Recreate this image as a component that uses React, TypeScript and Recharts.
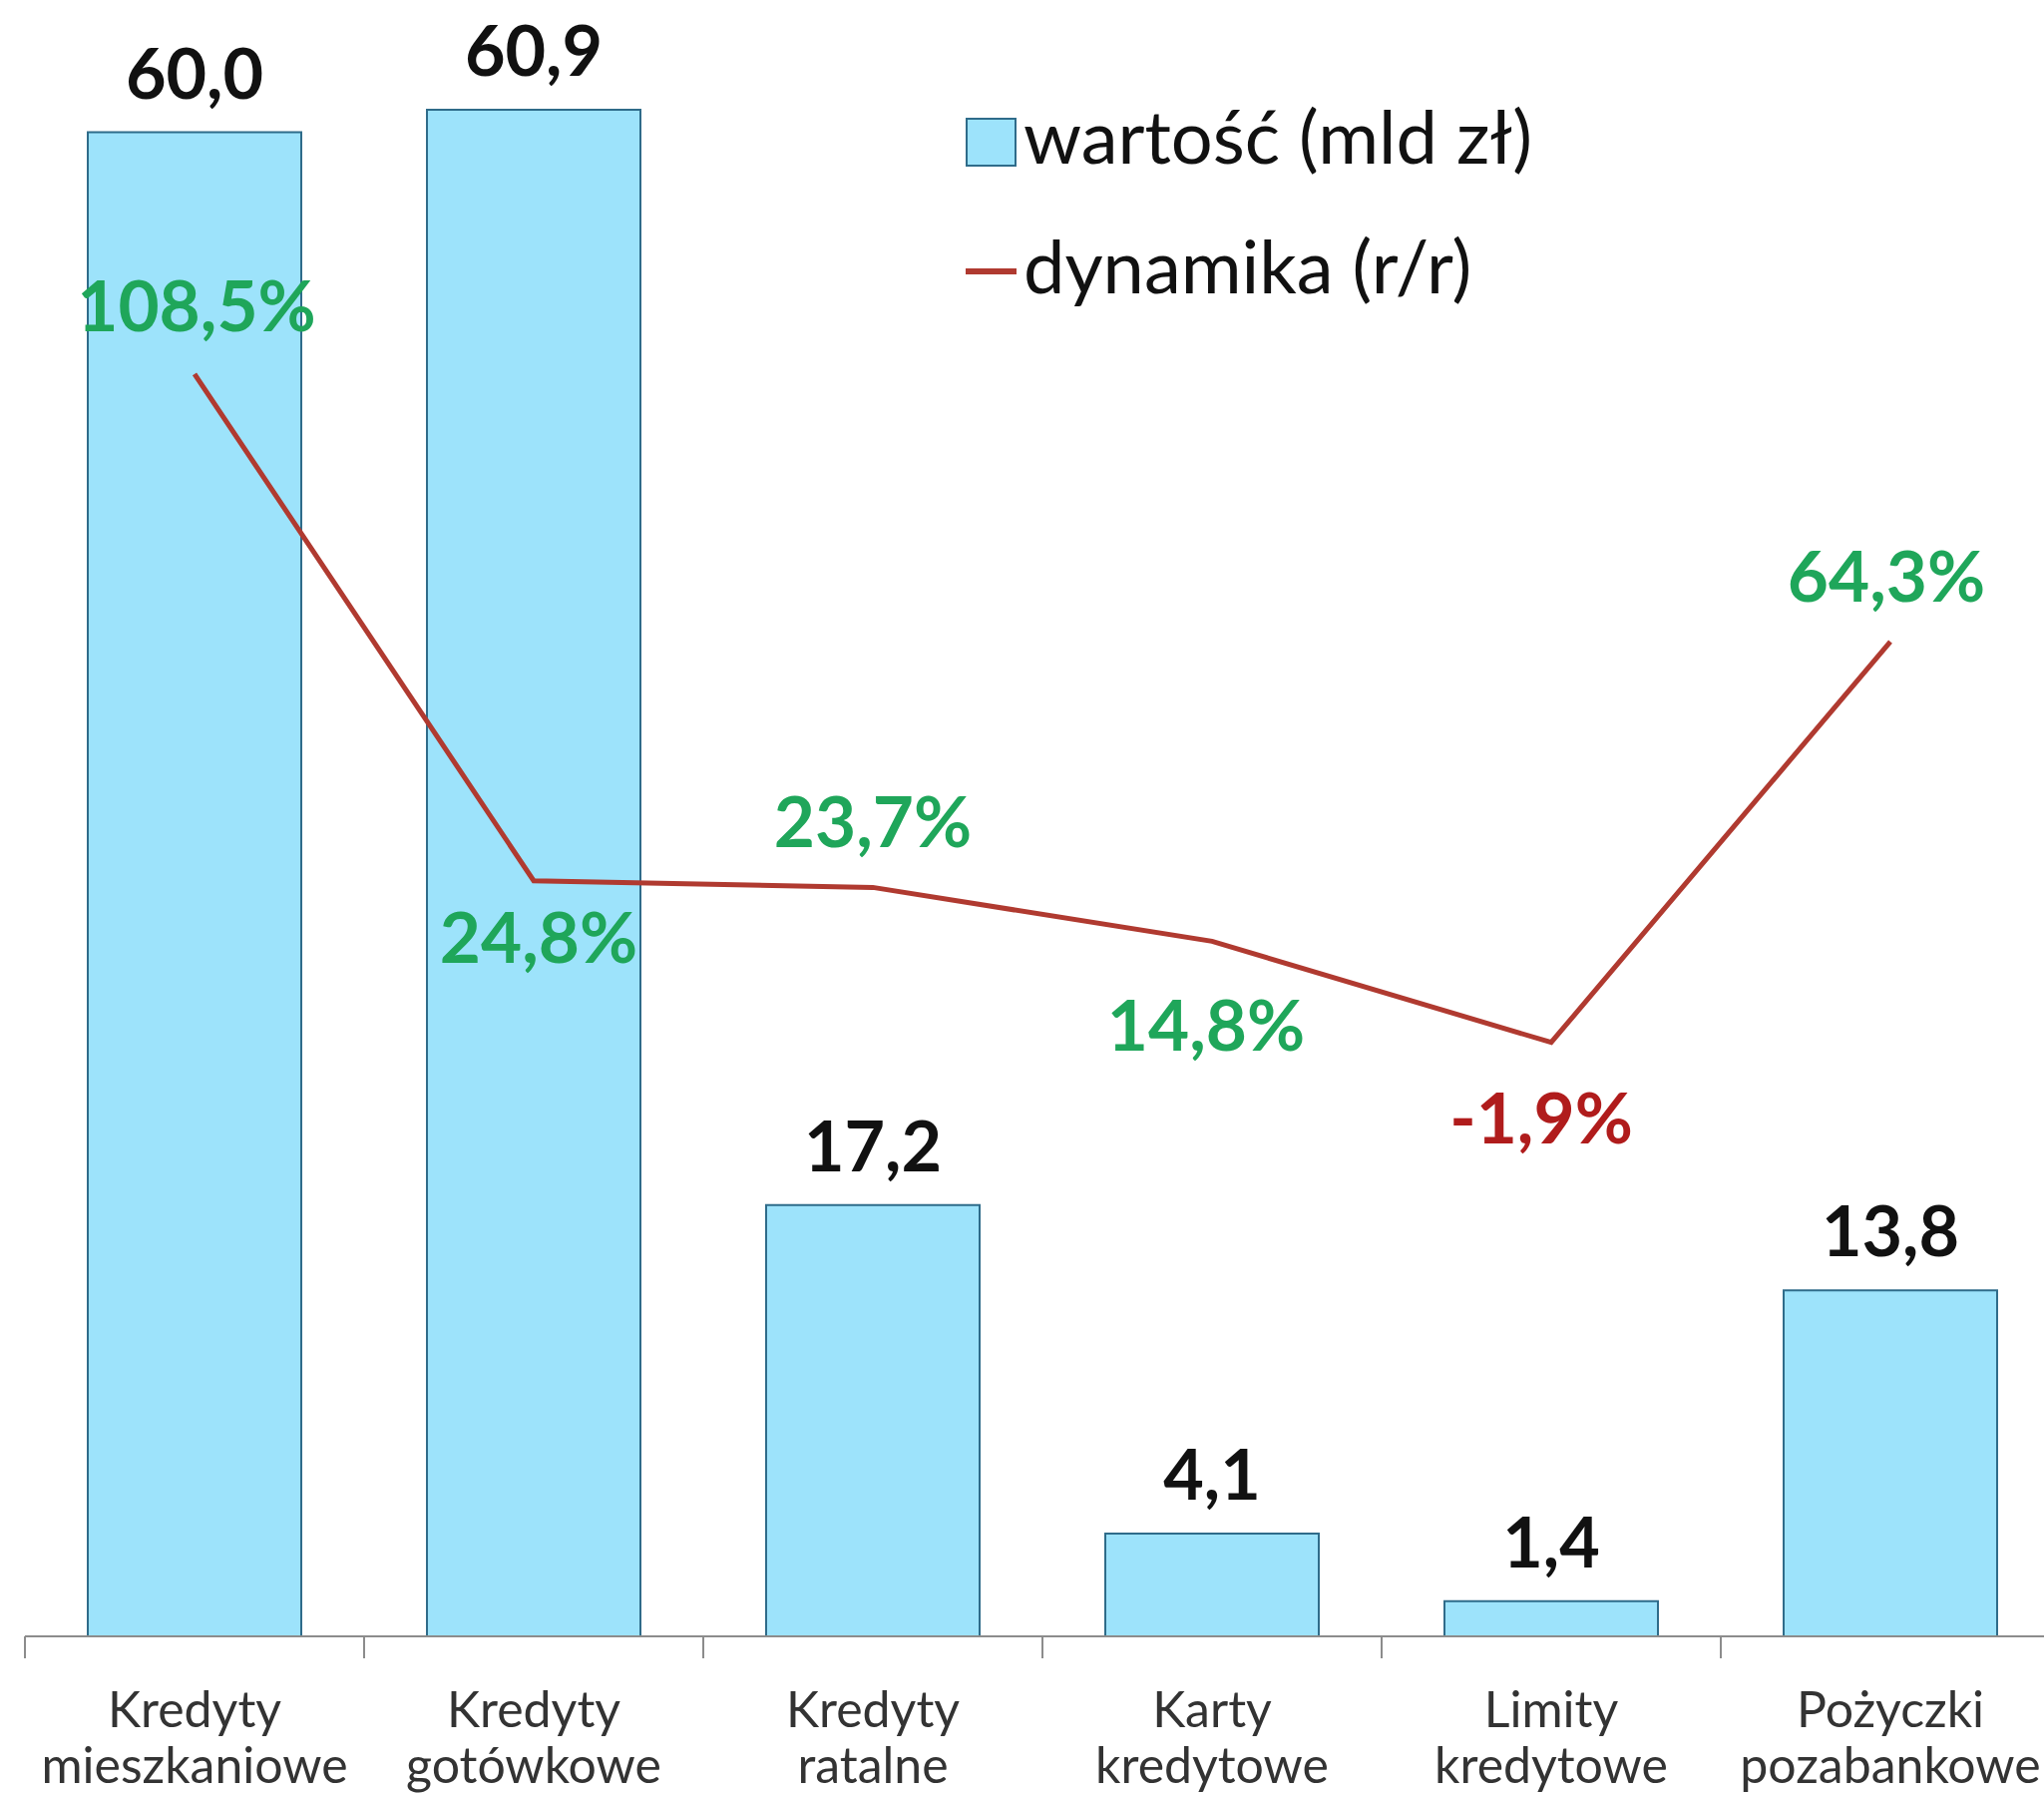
import { ComposedChart, Bar, Line, XAxis, YAxis, LabelList, Legend } from 'recharts'

const categories = [
  'Kredyty\nmieszkaniowe',
  'Kredyty\ngotówkowe',
  'Kredyty\nratalne',
  'Karty\nkredytowe',
  'Limity\nkredytowe',
  'Pożyczki\npozabankowe',
]
const wartosc = [60.0, 60.9, 17.2, 4.1, 1.4, 13.8]
const dynamika = [108.5, 24.8, 23.7, 14.8, -1.9, 64.3]

// label placement around the line points (style only)
const pctDy = [-43, 82, -40, 110, 101, -40]
const pctDx = [2, 5, 0, -6, -10, -4]

const data = categories.map((name, i) => ({ name, wartosc: wartosc[i], dynamika: dynamika[i] }))

const FONT = 'Lato, "Open Sans", sans-serif'
const BAR_FILL = '#9de3fb'
const BAR_STROKE = '#2f6c8a'
const LINE = '#b03a30'
const GREEN = '#1fa65a'
const RED = '#b01c1c'

const fmt = (v: number) => v.toFixed(1).replace('.', ',')

function CategoryTick(props: any) {
  const { x, y, payload, width } = props
  const half = payload?.offset ?? width / categories.length / 2
  const lines = String(payload.value).split('\n')
  return (
    <g>
      <line x1={x - half} x2={x - half} y1={y} y2={y + 22} stroke="#8c8c8c" strokeWidth={2} />
      <text x={x} y={y} textAnchor="middle" fontFamily={FONT} fontSize={50} fill="#333">
        <tspan x={x} y={y + 91}>{lines[0]}</tspan>
        <tspan x={x} y={y + 147}>{lines[1]}</tspan>
      </text>
    </g>
  )
}

function BarValue(props: any) {
  const { x, y, width, value } = props
  return (
    <text x={x + width / 2} y={y - 34} textAnchor="middle" fontFamily={FONT} fontWeight={700} fontSize={70} fill="#111">
      {fmt(value)}
    </text>
  )
}

function PctValue(props: any) {
  const { x, y, value, index } = props
  return (
    <text
      x={x + pctDx[index]}
      y={y + pctDy[index]}
      textAnchor="middle"
      fontFamily={FONT}
      fontWeight={700}
      fontSize={71}
      fill={value < 0 ? RED : GREEN}
    >
      {fmt(value) + '%'}
    </text>
  )
}

function LegendBox({ payload }: any) {
  const items = [...(payload || [])].sort((a: any, b: any) => (a.type === 'rect' ? -1 : 0) - (b.type === 'rect' ? -1 : 0))
  return (
    <div style={{ fontFamily: FONT, fontSize: 74, color: '#111' }}>
      {items.map((item: any) => (
        <div key={item.value} style={{ display: 'flex', alignItems: 'center', height: 130 }}>
          {item.type === 'line' ? (
            <span style={{ display: 'inline-block', width: 51, height: 6, background: LINE, position: 'relative', top: 6 }} />
          ) : (
            <span
              style={{
                display: 'inline-block',
                width: 47,
                height: 45,
                background: BAR_FILL,
                border: `2px solid ${BAR_STROKE}`,
                position: 'relative',
                top: 6,
              }}
            />
          )}
          <span style={{ lineHeight: '130px', marginLeft: 7, whiteSpace: 'nowrap' }}>{item.value}</span>
        </div>
      ))}
    </div>
  )
}

export default function App() {
  return (
    <div style={{ position: 'absolute', left: 0, top: 0, width: 2049, height: 1797, overflow: 'hidden', background: '#fff' }}>
      <ComposedChart width={2070} height={1797} data={data} margin={{ top: 32, right: 5, left: 25, bottom: 0 }} barCategoryGap={63}>
        <XAxis
          dataKey="name"
          height={157}
          axisLine={{ stroke: '#8c8c8c', strokeWidth: 2 }}
          tickLine={false}
          tickSize={0}
          tickMargin={0}
          interval={0}
          tick={<CategoryTick />}
        />
        <YAxis yAxisId="left" hide domain={[0, 64]} allowDataOverflow />
        <YAxis yAxisId="right" hide orientation="right" domain={[-100, 165]} allowDataOverflow />
        <Legend
          layout="horizontal"
          align="center"
          verticalAlign="middle"
          wrapperStyle={{ left: 968, top: 71, width: 800, height: 260 }}
          content={<LegendBox />}
        />
        <Bar
          yAxisId="left"
          dataKey="wartosc"
          name="wartość (mld zł)"
          fill={BAR_FILL}
          stroke={BAR_STROKE}
          strokeWidth={2}
          legendType="rect"
          isAnimationActive={false}
        >
          <LabelList dataKey="wartosc" content={<BarValue />} />
        </Bar>
        <Line
          yAxisId="right"
          type="linear"
          dataKey="dynamika"
          name="dynamika (r/r)"
          stroke={LINE}
          strokeWidth={5}
          dot={false}
          activeDot={false}
          legendType="line"
          isAnimationActive={false}
        >
          <LabelList dataKey="dynamika" content={<PctValue />} />
        </Line>
      </ComposedChart>
    </div>
  )
}
